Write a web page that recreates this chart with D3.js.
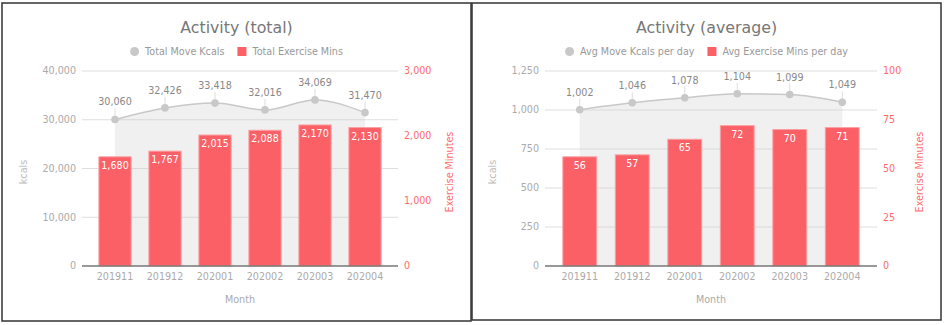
<!DOCTYPE html>
<html lang="en">
<head>
    <meta charset="UTF-8">
    <title>Activity</title>
    <script src="https://d3js.org/d3.v7.min.js"></script>
    <style>
        body { margin: 0; background: #fff; }
        svg { display: block; font-family: "DejaVu Sans", Verdana, sans-serif; }
    </style>
</head>
<body>
    <svg id="chart" width="944" height="325"></svg>

    <script>
        // Data
        var months = ["201911", "201912", "202001", "202002", "202003", "202004"];

        var totalMoveKcals = [30060, 32426, 33418, 32016, 34069, 31470];
        var totalExerciseMins = [1680, 1767, 2015, 2088, 2170, 2130];
        var totalKcalTicks = [0, 10000, 20000, 30000, 40000];
        var totalMinTicks = [0, 1000, 2000, 3000];

        var avgMoveKcals = [1002, 1046, 1078, 1104, 1099, 1049];
        var avgExerciseMins = [56, 57, 65, 72, 70, 71];
        var avgKcalTicks = [0, 250, 500, 750, 1000, 1250];
        var avgMinTicks = [0, 25, 50, 75, 100];

        var red = "#fa6066", redText = "#ff6b6b";
        var fmt = d3.format(",");
        var svg = d3.select("#chart");

        function drawPanel(opt) {
            var g = svg.append("g");
            var top = 71, bottom = 266;

            // panel frame
            g.append("rect")
                .attr("x", opt.box[0]).attr("y", opt.box[1])
                .attr("width", opt.box[2]).attr("height", opt.box[3])
                .attr("fill", "#fff").attr("stroke", "#333").attr("stroke-width", 1.5);

            var cx = opt.box[0] + opt.box[2] / 2;

            var x = d3.scalePoint().domain(months)
                .range([opt.left + opt.pad, opt.right - opt.pad]).padding(0.5);
            var bw = x.step() * 0.645;
            var yL = d3.scaleLinear().domain([0, d3.max(opt.kTicks)]).range([bottom, top]);
            var yR = d3.scaleLinear().domain([0, d3.max(opt.mTicks)]).range([bottom, top]);

            // title
            g.append("text").attr("x", cx).attr("y", 33).attr("text-anchor", "middle")
                .style("font-size", "15.8px").style("fill", "#777").text(opt.title);

            // legend
            var leg = g.append("g");
            leg.append("circle").attr("cx", 4.5).attr("cy", 51.5).attr("r", 4.5).attr("fill", "#c8c8c8");
            var t1 = leg.append("text").attr("x", 15).attr("y", 55)
                .style("font-size", "9.6px").style("fill", "#999").text(opt.leg1);
            var sx = 15 + t1.node().getComputedTextLength() + 13;
            leg.append("rect").attr("x", sx).attr("y", 47).attr("width", 9).attr("height", 9).attr("fill", red);
            var t2 = leg.append("text").attr("x", sx + 15).attr("y", 55)
                .style("font-size", "9.6px").style("fill", "#999").text(opt.leg2);
            var lw = sx + 15 + t2.node().getComputedTextLength();
            leg.attr("transform", "translate(" + (cx - lw / 2) + ",0)");

            // gridlines
            g.selectAll(".grid").data(opt.kTicks.filter(function(d) { return d > 0; })).enter()
                .append("line")
                .attr("x1", opt.left).attr("x2", opt.right)
                .attr("y1", function(d) { return yL(d); }).attr("y2", function(d) { return yL(d); })
                .attr("stroke", "#dedede").attr("stroke-width", 1);

            // left tick labels
            g.selectAll(".lt").data(opt.kTicks).enter().append("text")
                .attr("x", opt.left - 6).attr("y", function(d) { return yL(d); })
                .attr("dy", "0.35em").attr("text-anchor", "end")
                .style("font-size", "9.6px").style("fill", "#aaa").text(fmt);

            // right tick labels
            g.selectAll(".rt").data(opt.mTicks).enter().append("text")
                .attr("x", opt.right + 6).attr("y", function(d) { return yR(d); })
                .attr("dy", "0.35em")
                .style("font-size", "9.6px").style("fill", redText).text(fmt);

            // axis titles
            g.append("text").attr("transform", "translate(" + opt.kTitleX + ",172) rotate(-90)")
                .attr("text-anchor", "middle").attr("dy", "0.35em")
                .style("font-size", "9.6px").style("fill", "#bbb").text("kcals");
            g.append("text").attr("transform", "translate(" + opt.mTitleX + ",172) rotate(-90)")
                .attr("text-anchor", "middle").attr("dy", "0.35em")
                .style("font-size", "9.6px").style("fill", redText).text("Exercise Minutes");

            // area + line for kcals
            var pts = months.map(function(m, i) { return [x(m), yL(opt.kcals[i])]; });
            var area = d3.area().x(function(d) { return d[0]; }).y0(bottom).y1(function(d) { return d[1]; })
                .curve(d3.curveMonotoneX);
            g.append("path").attr("d", area(pts)).attr("fill", "#ccc").attr("fill-opacity", 0.3);

            // bars
            g.selectAll(".bar").data(opt.mins).enter().append("rect")
                .attr("x", function(d, i) { return x(months[i]) - bw / 2; })
                .attr("y", function(d) { return yR(d); })
                .attr("width", bw)
                .attr("height", function(d) { return bottom - yR(d); })
                .attr("fill", red).attr("stroke", "#fca0a3").attr("stroke-width", 1);

            g.selectAll(".bl").data(opt.mins).enter().append("text")
                .attr("x", function(d, i) { return x(months[i]); })
                .attr("y", function(d) { return yR(d) + 12; })
                .attr("text-anchor", "middle")
                .style("font-size", "9.6px").style("fill", "#fff").text(fmt);

            var line = d3.line().x(function(d) { return d[0]; }).y(function(d) { return d[1]; })
                .curve(d3.curveMonotoneX);
            g.append("path").attr("d", line(pts)).attr("fill", "none")
                .attr("stroke", "#c8c8c8").attr("stroke-width", 1.5);

            // stems, points, labels
            g.selectAll(".stem").data(pts).enter().append("line")
                .attr("x1", function(d) { return d[0]; }).attr("x2", function(d) { return d[0]; })
                .attr("y1", function(d) { return d[1] - 11; }).attr("y2", function(d) { return d[1]; })
                .attr("stroke", "#ddd").attr("stroke-width", 1);
            g.selectAll(".pt").data(pts).enter().append("circle")
                .attr("cx", function(d) { return d[0]; }).attr("cy", function(d) { return d[1]; })
                .attr("r", 3.8).attr("fill", "#c8c8c8");
            g.selectAll(".pl").data(opt.kcals).enter().append("text")
                .attr("x", function(d, i) { return pts[i][0]; })
                .attr("y", function(d, i) { return pts[i][1] - 14; })
                .attr("text-anchor", "middle")
                .style("font-size", "9.6px").style("fill", "#888").text(fmt);

            // zero baseline
            g.append("line").attr("x1", opt.left).attr("x2", opt.right)
                .attr("y1", bottom).attr("y2", bottom)
                .attr("stroke", "#777").attr("stroke-width", 1.5);

            // x labels
            g.selectAll(".xl").data(months).enter().append("text")
                .attr("x", function(d) { return x(d); }).attr("y", 279.5)
                .attr("text-anchor", "middle")
                .style("font-size", "9.6px").style("fill", "#aaa").text(function(d) { return d; });
            g.append("text").attr("x", (opt.left + opt.right) / 2).attr("y", 302.5)
                .attr("text-anchor", "middle")
                .style("font-size", "9.6px").style("fill", "#aaa").text("Month");
        }

        drawPanel({
            box: [2, 3, 469, 318], left: 82, right: 398, pad: 8,
            title: "Activity (total)", leg1: "Total Move Kcals", leg2: "Total Exercise Mins",
            kcals: totalMoveKcals, mins: totalExerciseMins,
            kTicks: totalKcalTicks, mTicks: totalMinTicks,
            kTitleX: 24, mTitleX: 450
        });

        drawPanel({
            box: [472, 3, 469, 317], left: 545, right: 877, pad: 8.5,
            title: "Activity (average)", leg1: "Avg Move Kcals per day", leg2: "Avg Exercise Mins per day",
            kcals: avgMoveKcals, mins: avgExerciseMins,
            kTicks: avgKcalTicks, mTicks: avgMinTicks,
            kTitleX: 493, mTitleX: 920
        });
    </script>
</body>
</html>
